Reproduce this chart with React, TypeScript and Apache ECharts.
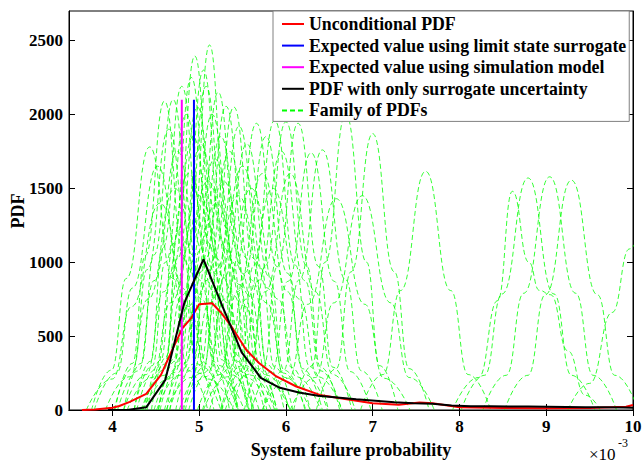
import React, { useEffect, useRef } from "react";
import * as echarts from "echarts";

const FONT = "'Liberation Serif', 'Times New Roman', serif";

const xTicks = [4, 5, 6, 7, 8, 9, 10];
const yTicks = [0, 500, 1000, 1500, 2000, 2500];

const legendNames = [
  "Unconditional PDF",
  "Expected value using limit state surrogate",
  "Expected value using simulation model",
  "PDF with only surrogate uncertainty",
  "Family of PDFs",
];

const unconditionalPdf: number[][] = [
  [3.65, 0], [3.8, 3], [4.0, 15], [4.08, 27], [4.2, 55], [4.39, 109], [4.56, 238],
  [4.7, 420], [4.81, 556], [4.91, 624], [5.0, 715], [5.15, 722], [5.25, 660],
  [5.37, 567], [5.54, 409], [5.69, 318], [5.89, 227], [6.12, 159], [6.39, 102],
  [6.7, 72], [7.0, 45], [7.3, 36], [7.54, 50], [7.69, 45], [8.0, 18], [8.5, 14],
  [9.0, 12], [9.5, 13], [9.92, 22], [10.0, 34],
];

const surrogateOnlyPdf: number[][] = [
  [3.95, 0], [4.17, 0], [4.39, 18], [4.61, 204], [4.83, 727], [5.05, 1020],
  [5.27, 700], [5.49, 390], [5.71, 218], [5.93, 150], [6.15, 118], [6.37, 97],
  [6.59, 85], [6.81, 72], [7.03, 62], [7.25, 52], [7.47, 46], [7.69, 42],
  [7.91, 30], [8.13, 26], [8.35, 25], [8.57, 24], [8.79, 23], [9.01, 22],
  [9.23, 21], [9.45, 19], [9.67, 18], [9.89, 17], [10.0, 16],
];

const expectedSurrogate = 4.94;
const expectedSimulation = 4.8;
const expectedLineHeight = 2100;

const familyCurves: number[][][] = [
  [[3.76, 0], [3.99, 270], [4.16, 890], [4.43, 1780], [4.70, 890], [4.87, 270], [5.10, 0]],
  [[4.03, 0], [4.23, 315], [4.38, 1045], [4.60, 2090], [4.82, 1045], [4.97, 315], [5.17, 0]],
  [[4.13, 0], [4.33, 315], [4.48, 1050], [4.70, 2100], [4.92, 1050], [5.07, 315], [5.27, 0]],
  [[4.25, 0], [4.44, 330], [4.58, 1095], [4.80, 2190], [5.02, 1095], [5.16, 330], [5.35, 0]],
  [[4.38, 0], [4.56, 340], [4.70, 1125], [4.91, 2250], [5.12, 1125], [5.26, 340], [5.44, 0]],
  [[4.45, 0], [4.62, 360], [4.75, 1200], [4.95, 2395], [5.15, 1200], [5.28, 360], [5.45, 0]],
  [[4.63, 0], [4.80, 370], [4.93, 1235], [5.12, 2470], [5.31, 1235], [5.44, 370], [5.61, 0]],
  [[4.53, 0], [4.72, 330], [4.86, 1095], [5.08, 2190], [5.30, 1095], [5.44, 330], [5.63, 0]],
  [[4.73, 0], [4.93, 310], [5.08, 1030], [5.31, 2055], [5.54, 1030], [5.69, 310], [5.89, 0]],
  [[4.84, 0], [5.05, 290], [5.21, 960], [5.46, 1920], [5.71, 960], [5.87, 290], [6.08, 0]],
  [[5.04, 0], [5.26, 290], [5.42, 970], [5.66, 1940], [5.90, 970], [6.06, 290], [6.28, 0]],
  [[5.12, 0], [5.35, 280], [5.52, 925], [5.77, 1850], [6.02, 925], [6.19, 280], [6.42, 0]],
  [[5.25, 0], [5.47, 295], [5.63, 980], [5.87, 1960], [6.11, 980], [6.27, 295], [6.49, 0]],
  [[5.38, 0], [5.60, 290], [5.76, 975], [6.00, 1950], [6.24, 975], [6.40, 290], [6.62, 0]],
  [[5.52, 0], [5.74, 290], [5.90, 970], [6.14, 1940], [6.38, 970], [6.54, 290], [6.76, 0]],
  [[5.60, 0], [5.84, 260], [6.02, 870], [6.29, 1740], [6.56, 870], [6.74, 260], [6.98, 0]],
  [[5.73, 0], [5.97, 265], [6.15, 880], [6.42, 1760], [6.69, 880], [6.87, 265], [7.11, 0]],
  [[6.09, 0], [6.30, 300], [6.45, 1000], [6.69, 2000], [6.93, 1000], [7.08, 300], [7.29, 0]],
  [[6.35, 0], [6.58, 280], [6.75, 935], [7.00, 1870], [7.25, 935], [7.42, 280], [7.65, 0]],
  [[6.86, 0], [7.12, 240], [7.32, 808], [7.61, 1615], [7.90, 808], [8.10, 240], [8.36, 0]],
  [[7.92, 0], [8.22, 220], [8.44, 740], [8.61, 1480], [8.80, 1000], [8.92, 810], [9.05, 780], [9.25, 400], [9.45, 100], [9.62, 0]],
  [[8.02, 0], [8.29, 235], [8.49, 785], [8.79, 1570], [9.09, 785], [9.29, 235], [9.56, 0]],
  [[8.27, 0], [8.54, 235], [8.74, 790], [9.04, 1578], [9.34, 790], [9.54, 235], [9.81, 0]],
  [[8.52, 0], [8.79, 235], [8.99, 780], [9.29, 1555], [9.59, 780], [9.79, 235], [10.06, 0]],
  [[9.25, 0], [9.50, 180], [9.76, 660], [9.96, 1090], [10.1, 1250]],
  [[5.73, 0], [6.03, 215], [6.25, 715], [6.58, 1430], [6.91, 715], [7.13, 215], [7.43, 0]],
  [[6.05, 0], [6.34, 220], [6.55, 725], [6.88, 1450], [7.21, 725], [7.42, 220], [7.71, 0]],
  [[4.98, 0], [5.24, 240], [5.44, 800], [5.73, 1600], [6.02, 800], [6.22, 240], [6.48, 0]],
  [[3.79, 0], [4.05, 250], [4.23, 825], [4.52, 1650], [4.81, 825], [4.99, 250], [5.25, 0]],
  [[4.02, 0], [4.24, 285], [4.40, 950], [4.65, 1900], [4.90, 950], [5.06, 285], [5.28, 0]],
  [[4.06, 0], [4.30, 265], [4.48, 875], [4.75, 1750], [5.02, 875], [5.20, 265], [5.44, 0]],
  [[4.25, 0], [4.46, 300], [4.61, 1000], [4.85, 2000], [5.09, 1000], [5.24, 300], [5.45, 0]],
  [[4.13, 0], [4.39, 240], [4.59, 800], [4.88, 1600], [5.17, 800], [5.37, 240], [5.63, 0]],
  [[4.40, 0], [4.60, 310], [4.75, 1025], [4.98, 2050], [5.21, 1025], [5.36, 310], [5.56, 0]],
  [[4.35, 0], [4.59, 270], [4.76, 900], [5.02, 1800], [5.28, 900], [5.45, 270], [5.69, 0]],
  [[4.53, 0], [4.71, 345], [4.84, 1150], [5.05, 2300], [5.26, 1150], [5.39, 345], [5.57, 0]],
  [[4.55, 0], [4.76, 300], [4.91, 1000], [5.15, 2000], [5.39, 1000], [5.54, 300], [5.75, 0]],
  [[4.48, 0], [4.72, 255], [4.90, 850], [5.18, 1700], [5.46, 850], [5.64, 255], [5.88, 0]],
  [[4.66, 0], [4.86, 325], [5.00, 1075], [5.22, 2150], [5.44, 1075], [5.58, 325], [5.78, 0]],
  [[4.60, 0], [4.83, 280], [5.00, 925], [5.25, 1850], [5.50, 925], [5.67, 280], [5.90, 0]],
  [[4.66, 0], [4.90, 265], [5.08, 875], [5.35, 1750], [5.62, 875], [5.80, 265], [6.04, 0]],
  [[4.82, 0], [5.02, 310], [5.17, 1025], [5.40, 2050], [5.63, 1025], [5.78, 310], [5.98, 0]],
  [[4.77, 0], [5.03, 250], [5.21, 825], [5.50, 1650], [5.79, 825], [5.97, 250], [6.23, 0]],
  [[4.88, 0], [5.12, 270], [5.29, 900], [5.55, 1800], [5.81, 900], [5.98, 270], [6.22, 0]],
  [[4.80, 0], [5.08, 225], [5.29, 750], [5.60, 1500], [5.91, 750], [6.12, 225], [6.40, 0]],
  [[4.33, 0], [4.60, 235], [4.80, 775], [5.10, 1550], [5.40, 775], [5.60, 235], [5.87, 0]],
  [[4.28, 0], [4.51, 280], [4.68, 925], [4.93, 1850], [5.18, 925], [5.35, 280], [5.58, 0]],
  [[4.51, 0], [4.78, 235], [4.98, 775], [5.28, 1550], [5.58, 775], [5.78, 235], [6.05, 0]],
  [[4.17, 0], [4.46, 220], [4.67, 725], [5.00, 1450], [5.33, 725], [5.54, 220], [5.83, 0]],
  [[4.35, 0], [4.65, 210], [4.87, 700], [5.20, 1400], [5.53, 700], [5.75, 210], [6.05, 0]],
  [[4.62, 0], [4.91, 220], [5.12, 725], [5.45, 1450], [5.78, 725], [5.99, 220], [6.28, 0]],
  [[3.92, 0], [4.20, 225], [4.41, 750], [4.72, 1500], [5.03, 750], [5.24, 225], [5.52, 0]],
  [[5.05, 0], [5.33, 225], [5.54, 750], [5.85, 1500], [6.16, 750], [6.37, 225], [6.65, 0]],
  [[5.30, 0], [5.56, 240], [5.76, 800], [6.05, 1600], [6.34, 800], [6.54, 240], [6.80, 0]],
  [[3.70, 0], [4.00, 210], [4.22, 700], [4.55, 1400], [4.88, 700], [5.10, 210], [5.40, 0]],
  [[5.26, 0], [5.50, 265], [5.68, 875], [5.95, 1750], [6.22, 875], [6.40, 265], [6.64, 0]],
];

export default function App() {
  const ref = useRef<HTMLDivElement>(null);

  useEffect(() => {
    if (!ref.current) return;
    const chart = echarts.init(ref.current, null, { renderer: "svg" });

    const familySeries = familyCurves.map((curve) => ({
      name: "Family of PDFs",
      type: "line",
      data: curve,
      smooth: 0.5,
      smoothMonotone: "x",
      symbol: "none",
      silent: true,
      clip: true,
      lineStyle: { color: "#00ff00", width: 0.8, type: [5, 3] },
      itemStyle: { color: "#00ff00" },
      z: 2,
    }));

    const axisLabelStyle = {
      fontFamily: FONT,
      fontWeight: "bold",
      fontSize: 17,
      color: "#000",
    };

    chart.setOption({
      animation: false,
      backgroundColor: "#fff",
      grid: {
        left: 69,
        right: 11,
        top: 11,
        bottom: 53,
        containLabel: false,
        outerBoundsMode: "none",
        show: true,
        borderColor: "#000",
        borderWidth: 1,
        backgroundColor: "transparent",
      },
      legend: {
        data: legendNames,
        orient: "vertical",
        left: 273,
        top: 11,
        padding: [4, 3, 2, 8],
        itemGap: 3.6,
        itemWidth: 22,
        itemHeight: 10,
        backgroundColor: "#fff",
        borderColor: "#808080",
        borderWidth: 1,
        selectedMode: false,
        itemStyle: { opacity: 0 },
        textStyle: {
          fontFamily: FONT,
          fontWeight: "bold",
          fontSize: 17.8,
          color: "#000",
          lineHeight: 18,
        },
      },
      xAxis: [
        {
          type: "value",
          min: 3.5,
          max: 10,
          position: "bottom",
          name: "System failure probability",
          nameLocation: "middle",
          nameGap: 31,
          nameTextStyle: { ...axisLabelStyle, fontSize: 18 },
          axisLine: { show: true, lineStyle: { color: "#000", width: 1 } },
          axisTick: { show: true, inside: true, length: 6, customValues: xTicks, lineStyle: { color: "#000" } },
          axisLabel: { ...axisLabelStyle, margin: 8, customValues: xTicks, formatter: (v: number) => String(v) },
          splitLine: { show: false },
        },
        {
          type: "value",
          min: 3.5,
          max: 10,
          position: "top",
          axisLine: { show: true, lineStyle: { color: "#000", width: 1 } },
          axisTick: { show: true, inside: true, length: 6, customValues: xTicks, lineStyle: { color: "#000" } },
          axisLabel: { show: false },
          splitLine: { show: false },
        },
      ],
      yAxis: [
        {
          type: "value",
          min: 0,
          max: 2700,
          position: "left",
          axisLine: { show: true, lineStyle: { color: "#000", width: 1 } },
          axisTick: { show: true, inside: true, length: 6, customValues: yTicks, lineStyle: { color: "#000" } },
          axisLabel: { ...axisLabelStyle, margin: 6, customValues: yTicks, formatter: (v: number) => String(v) },
          splitLine: { show: false },
        },
        {
          type: "value",
          min: 0,
          max: 2700,
          position: "right",
          axisLine: { show: true, lineStyle: { color: "#000", width: 1 } },
          axisTick: { show: true, inside: true, length: 6, customValues: yTicks, lineStyle: { color: "#000" } },
          axisLabel: { show: false },
          splitLine: { show: false },
        },
      ],
      graphic: [
        {
          type: "text",
          x: 18,
          y: 211,
          rotation: Math.PI / 2,
          style: {
            text: "PDF",
            fontFamily: FONT,
            fontWeight: "bold",
            fontSize: 18,
            fill: "#000",
            align: "center",
            verticalAlign: "middle",
          },
        },
        {
          type: "text",
          left: 589,
          top: 446,
          style: { text: "×10", fontFamily: FONT, fontSize: 17, fill: "#000" },
        },
        {
          type: "text",
          left: 618,
          top: 437,
          style: { text: "-3", fontFamily: FONT, fontSize: 12, fill: "#000" },
        },
      ],
      series: [
        ...familySeries,
        {
          name: "Unconditional PDF",
          type: "line",
          data: unconditionalPdf,
          symbol: "none",
          lineStyle: { color: "#ff0000", width: 2 },
          itemStyle: { color: "#ff0000" },
          z: 5,
        },
        {
          name: "Expected value using limit state surrogate",
          type: "line",
          data: [[expectedSurrogate, 0], [expectedSurrogate, expectedLineHeight]],
          symbol: "none",
          lineStyle: { color: "#0000ff", width: 2 },
          itemStyle: { color: "#0000ff" },
          z: 5,
        },
        {
          name: "Expected value using simulation model",
          type: "line",
          data: [[expectedSimulation, 0], [expectedSimulation, expectedLineHeight]],
          symbol: "none",
          lineStyle: { color: "#ff00ff", width: 2 },
          itemStyle: { color: "#ff00ff" },
          z: 5,
        },
        {
          name: "PDF with only surrogate uncertainty",
          type: "line",
          data: surrogateOnlyPdf,
          symbol: "none",
          lineStyle: { color: "#000000", width: 2 },
          itemStyle: { color: "#000000" },
          z: 6,
        },
      ],
    });

    return () => chart.dispose();
  }, []);

  return (
    <div
      ref={ref}
      style={{ position: "fixed", left: 0, top: 0, width: 644, height: 463, background: "#fff" }}
    />
  );
}
